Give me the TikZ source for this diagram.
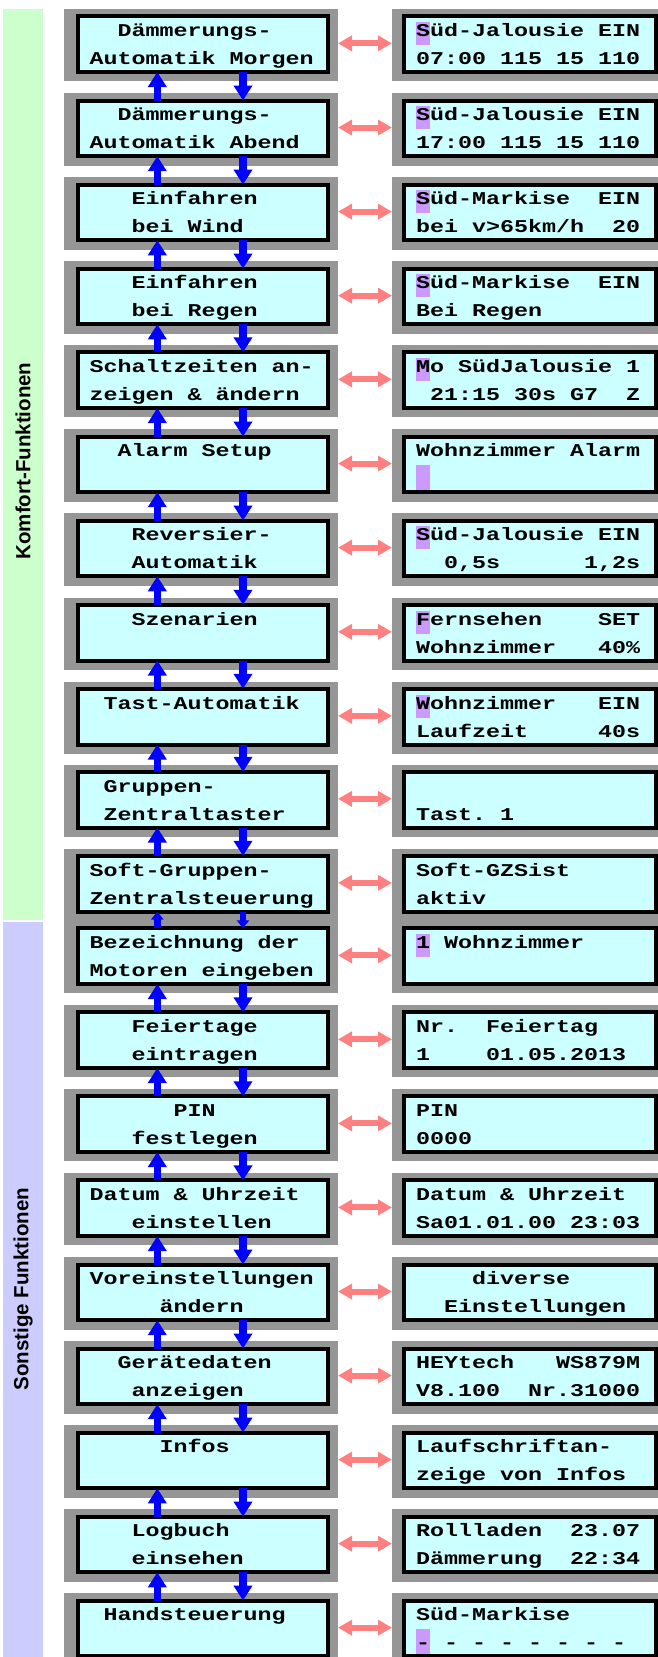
\documentclass[tikz,border=0pt]{standalone}
\usepackage{fontspec}
\usetikzlibrary{arrows.meta,calc}
\newfontfamily\lcdfont{Liberation Mono}[FakeStretch=1.2963]
\newfontfamily\sidefont{Liberation Sans}
\definecolor{lcdbg}{HTML}{CCFFFF}
\definecolor{framegray}{HTML}{969696}
\definecolor{navblue}{HTML}{0000FF}
\definecolor{linkpink}{HTML}{FF8080}
\definecolor{cursorc}{HTML}{CC99FF}
\definecolor{sidegreen}{HTML}{CCFFCC}
\definecolor{sidelav}{HTML}{CCCCFF}
\newcommand\ksp{\phantom{0}}
\tikzset{
 gframe/.style={fill=framegray, draw=none, inner sep=0pt, outer sep=0pt, minimum height=72.3pt, anchor=north west},
 lcdbox/.style={fill=lcdbg, draw=black, line width=4pt, inner sep=0pt, outer sep=0pt, minimum height=55.7pt, anchor=north west},
 lcdtext/.style={font=\lcdfont\bfseries\fontsize{18}{18}\selectfont, inner sep=0pt, outer sep=0pt, anchor=base west, text=black},
 navarrow/.style={draw=navblue, line width=7.5pt, >={Triangle[width=18pt,length=15pt]}, ->},
 navshort/.style={draw=navblue, line width=6.5pt, >={Triangle[width=12pt,length=8pt]}, ->},
 linkarrow/.style={draw=linkpink, line width=6pt, >={Triangle[width=15pt,length=14pt]}, <->},
 cursorbox/.style={fill=cursorc},
 sidelabel/.style={rotate=90, font=\sidefont\bfseries\fontsize{20.5}{20.5}\selectfont, inner sep=0pt, text=black}
}
\newcommand\lcdrow[2]{%
  \node[gframe, minimum width=274pt] (GL#1) at (64,#2) {};
  \node[gframe, minimum width=290pt] (GR#1) at (392,#2) {};
  \node[lcdbox, minimum width=250pt] (L#1) at (77.5,#2+7.3) {};
  \node[lcdbox, minimum width=252pt] (R#1) at (404,#2+7.3) {};
}
\newcommand\txa[3]{\node[lcdtext] (#1a) at ($(#1.north west)+({12+14*#2},20.2)$) {#3};}
\newcommand\txb[3]{\node[lcdtext] (#1b) at ($(#1.north west)+({12+14*#2},48.2)$) {#3};}
\newcommand\cura[2]{\fill[cursorbox] ($(#1.north west)+({12+14*#2},5.7)$) rectangle ++(14,23);}
\newcommand\curb[2]{\fill[cursorbox] ($(#1.north west)+({12+14*#2},28.2)$) rectangle ++(14,25.5);}
\begin{document}
\begin{tikzpicture}[x=1pt,y=-1pt]
\path[use as bounding box] (0,0) rectangle (658,1657);
\clip (0,0) rectangle (658,1657);
\fill[white] (0,0) rectangle (658,1657);
% side bars
\fill[sidegreen] (3.4,9) rectangle (42.8,919.5);
\fill[sidelav] (3.4,921.5) rectangle (42.8,1657);
\node[sidelabel] (komfort) at (23,461) {Komfort-Funktionen};
\node[sidelabel] (sonstige) at (23,1289) {Sonstige Funktionen};
% rows
\lcdrow{1}{9}
\lcdrow{2}{93.2}
\lcdrow{3}{177.3}
\lcdrow{4}{261.3}
\lcdrow{5}{345}
\lcdrow{6}{429.2}
\lcdrow{7}{513.3}
\lcdrow{8}{597.5}
\lcdrow{9}{681.5}
\lcdrow{10}{764.5}
\lcdrow{11}{848.5}
\lcdrow{12}{921}
\lcdrow{13}{1005}
\lcdrow{14}{1089}
\lcdrow{15}{1173.1}
\lcdrow{16}{1257.2}
\lcdrow{17}{1341.2}
\lcdrow{18}{1425.3}
\lcdrow{19}{1509.3}
\lcdrow{20}{1593.3}
% cursors
\cura{R1}{0}
\cura{R2}{0}
\cura{R3}{0}
\cura{R4}{0}
\cura{R5}{0}
\curb{R6}{0}
\cura{R7}{0}
\cura{R8}{0}
\cura{R9}{0}
\cura{R12}{0}
\curb{R20}{0}
% left texts
\txa{L1}{2}{Dämmerungs-}
\txb{L1}{0}{Automatik\ksp Morgen}
\txa{L2}{2}{Dämmerungs-}
\txb{L2}{0}{Automatik\ksp Abend}
\txa{L3}{3}{Einfahren}
\txb{L3}{3}{bei\ksp Wind}
\txa{L4}{3}{Einfahren}
\txb{L4}{3}{bei\ksp Regen}
\txa{L5}{0}{Schaltzeiten\ksp an-}
\txb{L5}{0}{zeigen\ksp\&\ksp ändern}
\txa{L6}{2}{Alarm\ksp Setup}
\txa{L7}{3}{Reversier-}
\txb{L7}{3}{Automatik}
\txa{L8}{3}{Szenarien}
\txa{L9}{1}{Tast-Automatik}
\txa{L10}{1}{Gruppen-}
\txb{L10}{1}{Zentraltaster}
\txa{L11}{0}{Soft-Gruppen-}
\txb{L11}{0}{Zentralsteuerung}
\txa{L12}{0}{Bezeichnung\ksp der}
\txb{L12}{0}{Motoren\ksp eingeben}
\txa{L13}{3}{Feiertage}
\txb{L13}{3}{eintragen}
\txa{L14}{6}{PIN}
\txb{L14}{3}{festlegen}
\txa{L15}{0}{Datum\ksp\&\ksp Uhrzeit}
\txb{L15}{3}{einstellen}
\txa{L16}{0}{Voreinstellungen}
\txb{L16}{5}{ändern}
\txa{L17}{2}{Gerätedaten}
\txb{L17}{3}{anzeigen}
\txa{L18}{5}{Infos}
\txa{L19}{3}{Logbuch}
\txb{L19}{3}{einsehen}
\txa{L20}{1}{Handsteuerung}
% right texts
\txa{R1}{0}{Süd-Jalousie\ksp EIN}
\txb{R1}{0}{07:00\ksp 115\ksp 15\ksp 110}
\txa{R2}{0}{Süd-Jalousie\ksp EIN}
\txb{R2}{0}{17:00\ksp 115\ksp 15\ksp 110}
\txa{R3}{0}{Süd-Markise\ksp\ksp EIN}
\txb{R3}{0}{bei\ksp v>65km/h\ksp\ksp 20}
\txa{R4}{0}{Süd-Markise\ksp\ksp EIN}
\txb{R4}{0}{Bei\ksp Regen}
\txa{R5}{0}{Mo\ksp SüdJalousie\ksp 1}
\txb{R5}{1}{21:15\ksp 30s\ksp G7\ksp\ksp Z}
\txa{R6}{0}{Wohnzimmer\ksp Alarm}
\txa{R7}{0}{Süd-Jalousie\ksp EIN}
\txb{R7}{2}{0,5s\ksp\ksp\ksp\ksp\ksp\ksp 1,2s}
\txa{R8}{0}{Fernsehen\ksp\ksp\ksp\ksp SET}
\txb{R8}{0}{Wohnzimmer\ksp\ksp\ksp 40\%}
\txa{R9}{0}{Wohnzimmer\ksp\ksp\ksp EIN}
\txb{R9}{0}{Laufzeit\ksp\ksp\ksp\ksp\ksp 40s}
\txb{R10}{0}{Tast.\ksp 1}
\txa{R11}{0}{Soft-GZSist}
\txb{R11}{0}{aktiv}
\txa{R12}{0}{1\ksp Wohnzimmer}
\txa{R13}{0}{Nr.\ksp\ksp Feiertag}
\txb{R13}{0}{1\ksp\ksp\ksp\ksp 01.05.2013}
\txa{R14}{0}{PIN}
\txb{R14}{0}{0000}
\txa{R15}{0}{Datum\ksp\&\ksp Uhrzeit}
\txb{R15}{0}{Sa01.01.00\ksp 23:03}
\txa{R16}{4}{diverse}
\txb{R16}{2}{Einstellungen}
\txa{R17}{0}{HEYtech\ksp\ksp\ksp WS879M}
\txb{R17}{0}{V8.100\ksp\ksp Nr.31000}
\txa{R18}{0}{Laufschriftan-}
\txb{R18}{0}{zeige\ksp von\ksp Infos}
\txa{R19}{0}{Rollladen\ksp\ksp 23.07}
\txb{R19}{0}{Dämmerung\ksp\ksp 22:34}
\txa{R20}{0}{Süd-Markise}
\txb{R20}{0}{-\ksp-\ksp-\ksp-\ksp-\ksp-\ksp-\ksp-}
% navigation arrows
\coordinate (ux) at (157.3,0);
\coordinate (dx) at (243,0);
\foreach \i [evaluate=\i as \j using int(\i+1)] in {1,...,10,12,13,...,19} {
  \draw[navarrow] (ux |- L\j.north) -- (ux |- L\i.south);
  \draw[navarrow] (dx |- L\i.south) -- (dx |- L\j.north);
}
\draw[navshort] (ux |- L12.north) -- (ux |- L11.south);
\draw[navshort] (dx |- L11.south) -- (dx |- L12.north);
% link arrows
\foreach \i in {1,...,20} {
  \draw[linkarrow] ([yshift=1.8pt]GL\i.east) -- ([yshift=1.8pt]GR\i.west);
}
\end{tikzpicture}
\end{document}
